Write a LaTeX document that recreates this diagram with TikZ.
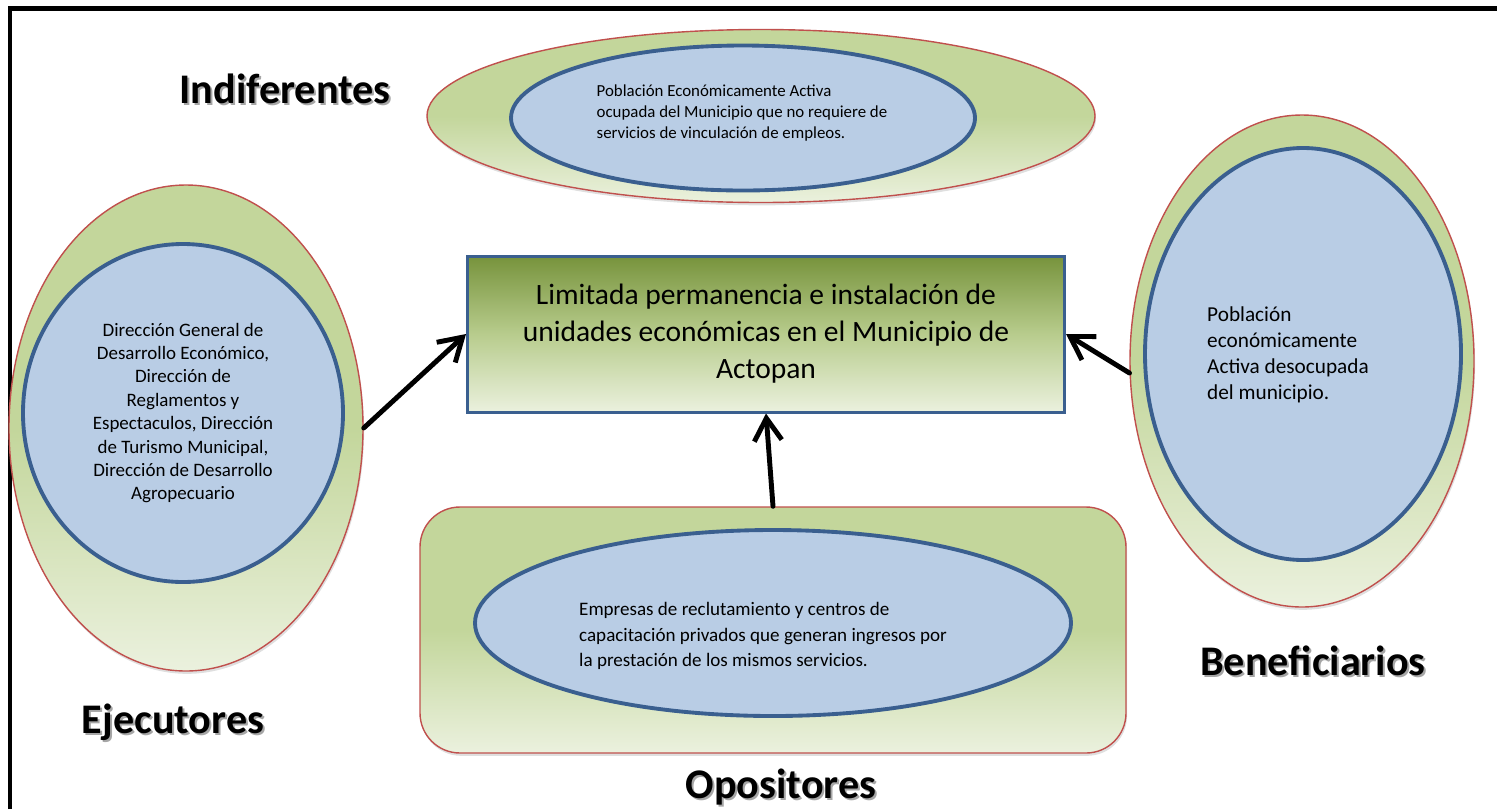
\documentclass[tikz,border=0pt]{standalone}
\usepackage{fontspec}
\setmainfont{Carlito}
\usetikzlibrary{arrows.meta,shadows,shapes.geometric,positioning}
\newcommand{\StakeUnit}{0.02}
\definecolor{stakeGreen}{HTML}{C3D69B}
\definecolor{stakePale}{HTML}{EBF1DE}
\definecolor{stakeOlive}{HTML}{77933C}
\definecolor{stakeBlue}{HTML}{B9CDE5}
\definecolor{stakeEdge}{HTML}{3A5F8F}
\definecolor{stakeRed}{HTML}{C0504D}
\tikzset{
	outer/.style={draw=stakeRed, line width=0.8pt, top color=stakeGreen, bottom color=stakePale, middle color=stakeGreen,
		drop shadow={opacity=0.25, shadow xshift=0.6pt, shadow yshift=-1.6pt}},
	inner/.style={ellipse, draw=stakeEdge, line width=2.2pt, fill=stakeBlue, inner sep=0pt},
	role/.style={font=\fontsize{24}{28}\selectfont\bfseries, anchor=base},
	roleshade/.style={role, text=black!35},
	push/.style={line width=2.8pt, line cap=round, line join=round, -{Straight Barb[length=4.5mm,width=5.5mm]}},
}

\begin{document}
\begin{tikzpicture}[x=\StakeUnit cm, y=-\StakeUnit cm]
		\useasboundingbox (0,0) rectangle (1497,809);
		\draw[line width=2.6pt] (10,809) -- (10,8.5) -- (1497,8.5);

		\node[outer, ellipse, minimum width=668*\StakeUnit cm, minimum height=173*\StakeUnit cm] (outI) at (761,116) {};
		\node[outer, ellipse, minimum width=354*\StakeUnit cm, minimum height=486*\StakeUnit cm] (outE) at (186,428) {};
		\node[outer, ellipse, minimum width=344*\StakeUnit cm, minimum height=492*\StakeUnit cm] (outB) at (1302,361) {};
		\node[outer, rounded corners=40*\StakeUnit cm, minimum width=706*\StakeUnit cm, minimum height=246*\StakeUnit cm] (opo) at (773,630) {};

		\node[inner, minimum width=464*\StakeUnit cm, minimum height=145*\StakeUnit cm] (inI) at (743,118) {};
		\node[inner, minimum width=320*\StakeUnit cm, minimum height=338*\StakeUnit cm, align=center, font=\fontsize{10.8}{13.3}\selectfont] (inE) at (183,413)
			{Dirección General de\\Desarrollo Económico,\\Dirección de\\Reglamentos y\\Espectaculos, Dirección\\de Turismo Municipal,\\Dirección de Desarrollo\\Agropecuario};
		\node[inner, minimum width=316*\StakeUnit cm, minimum height=412*\StakeUnit cm] (inB) at (1303,354) {};
		\node[inner, minimum width=596*\StakeUnit cm, minimum height=186*\StakeUnit cm] (inO) at (773,623) {};

		\node[align=left, font=\fontsize{9.6}{11.9}\selectfont] (txtI) at (742,113)
			{Población Económicamente Activa\\ocupada del Municipio que no requiere de\\servicios de vinculación de empleos.};
		\node[align=left, font=\fontsize{12.1}{14.7}\selectfont] (txtB) at (1288,355)
			{Población\\económicamente\\Activa desocupada\\del municipio.};
		\node[align=left, font=\fontsize{10.85}{14.5}\selectfont] (txtO) at (763,636)
			{Empresas de reclutamiento y centros de\\capacitación privados que generan ingresos por\\la prestación de los mismos servicios.};

		\node[draw=stakeEdge, line width=1.7pt, top color=stakeOlive, bottom color=stakePale, middle color=stakeGreen!85!stakeOlive,
			minimum width=597*\StakeUnit cm, minimum height=156*\StakeUnit cm, align=center, font=\fontsize{16.8}{21}\selectfont] (box) at (766,334)
			{Limitada permanencia e instalación de\\unidades económicas en el Municipio de\\Actopan};

		\draw[push] (outE.east) -- (box.west);
		\draw[push] (outB.184) -- (box.east);
		\draw[push] (opo.north) -- (box.south);

		\node[roleshade] (labIs) at (287,105.5) {Indiferentes};
		\node[role] (labI) at (285,103.5) {Indiferentes};
		\node[roleshade] (labEs) at (175,735) {Ejecutores};
		\node[role] (labE) at (173,733) {Ejecutores};
		\node[roleshade] (labBs) at (1315,677) {Beneficiarios};
		\node[role] (labB) at (1313,675) {Beneficiarios};
		\node[roleshade] (labOs) at (783,800) {Opositores};
		\node[role] (labO) at (781,798) {Opositores};
	\end{tikzpicture}
\end{document}
